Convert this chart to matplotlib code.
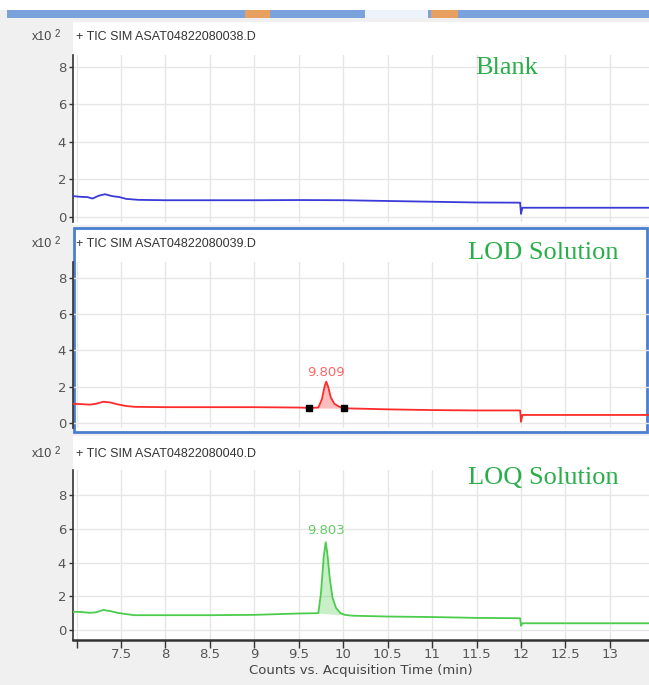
import matplotlib
matplotlib.use("Agg")
import matplotlib.pyplot as plt
from matplotlib.patches import Rectangle
import numpy as np

# ---------------- data ----------------
t_blank = [6.96, 7.05, 7.12, 7.18, 7.25, 7.32, 7.40, 7.48, 7.56, 7.70, 8.0, 8.5, 9.0, 9.5,
           10.0, 10.5, 11.0, 11.5, 11.99, 12.0, 12.015, 12.03, 12.5, 13.0, 13.44]
y_blank = [1.10, 1.06, 1.05, 0.97, 1.12, 1.20, 1.10, 1.05, 0.95, 0.90, 0.88, 0.88, 0.88, 0.89,
           0.88, 0.84, 0.80, 0.76, 0.75, 0.15, 0.48, 0.48, 0.48, 0.48, 0.48]

t_lod = [6.96, 7.05, 7.15, 7.22, 7.30, 7.38, 7.46, 7.55, 7.65, 8.0, 8.5, 9.0, 9.5, 9.62,
         9.72, 9.76, 9.79, 9.809, 9.83, 9.86, 9.90, 9.95, 10.01, 10.5, 11.0, 11.5, 11.99,
         12.0, 12.015, 12.03, 12.5, 13.0, 13.44]
y_lod = [1.05, 1.03, 1.00, 1.05, 1.16, 1.12, 1.02, 0.93, 0.88, 0.86, 0.86, 0.86, 0.84, 0.82,
         0.84, 1.30, 2.00, 2.27, 2.00, 1.40, 1.05, 0.90, 0.80, 0.74, 0.70, 0.68, 0.68,
         0.05, 0.43, 0.43, 0.43, 0.43, 0.43]
lod_rt = 9.809
lod_bounds = [9.62, 10.01]

t_loq = [6.96, 7.05, 7.15, 7.22, 7.30, 7.38, 7.46, 7.55, 7.65, 8.0, 8.5, 9.0, 9.5, 9.72,
         9.75, 9.78, 9.803, 9.82, 9.85, 9.88, 9.92, 9.97, 10.02, 10.1, 10.5, 11.0, 11.5,
         11.99, 12.0, 12.015, 12.03, 12.5, 13.0, 13.44]
y_loq = [1.08, 1.07, 1.02, 1.05, 1.19, 1.12, 1.02, 0.95, 0.88, 0.88, 0.88, 0.90, 0.98, 1.00,
         2.20, 4.30, 5.20, 4.60, 3.00, 1.90, 1.30, 1.00, 0.90, 0.85, 0.80, 0.77, 0.72,
         0.70, 0.25, 0.40, 0.40, 0.40, 0.40, 0.40]
loq_rt = 9.803
loq_bounds = [9.72, 10.05]

titles = ["+ TIC SIM ASAT04822080038.D", "+ TIC SIM ASAT04822080039.D", "+ TIC SIM ASAT04822080040.D"]
labels = ["Blank", "LOD Solution", "LOQ Solution"]
x_ticks = [7.0, 7.5, 8, 8.5, 9, 9.5, 10, 10.5, 11, 11.5, 12, 12.5, 13]
x_ticklabels = ["", "7.5", "8", "8.5", "9", "9.5", "10", "10.5", "11", "11.5", "12", "12.5", "13"]
y_ticks = [0, 2, 4, 6, 8]
xlabel = "Counts vs. Acquisition Time (min)"

# ---------------- figure ----------------
W, H = 649, 685
fig = plt.figure(figsize=(W / 100, H / 100), dpi=100, facecolor="#f0f0f0")

def fx(px):
    return px / W

def fy(py):
    return 1 - py / H

def frect(x0, y0, x1, y1, **kw):
    r = Rectangle((fx(x0), fy(y1)), fx(x1) - fx(x0), fy(y0) - fy(y1),
                  transform=fig.transFigure, zorder=-5, **kw)
    fig.patches.append(r)

# top toolbar
frect(0, 0, 649, 10, facecolor="white", edgecolor="none")
frect(7, 10, 649, 18, facecolor="#7aa2dc", edgecolor="none")
frect(365, 10, 428, 18, facecolor="#eef3fb", edgecolor="none")
frect(245, 10, 270, 18, facecolor="#e8a060", edgecolor="none")
frect(431, 10, 458, 18, facecolor="#e8a060", edgecolor="none")

# panel backgrounds
frect(73, 22, 649, 225, facecolor="white", edgecolor="none")
frect(73, 436, 649, 641, facecolor="white", edgecolor="none")
frect(74, 228, 647, 432, facecolor="white", edgecolor="#4a7fd0", linewidth=2)

panels = [
    dict(top=55, bot=222, ylim=(-0.28, 8.62), t=t_blank, y=y_blank, color="#3a3ad8",
         title_y=37, lab=(475, 68), peak=None),
    dict(top=262, bot=428, ylim=(-0.29, 8.88), t=t_lod, y=y_lod, color="#ff2a2a",
         title_y=244, lab=(468, 253), peak=(lod_rt, lod_bounds, "#ff6666", 2.75, True)),
    dict(top=470, bot=640, ylim=(-0.59, 9.48), t=t_loq, y=y_loq, color="#4ccc4c",
         title_y=454, lab=(468, 478), peak=(loq_rt, loq_bounds, "#66cc66", 5.9, False)),
]

tick_color = "#555555"
axes = []
for i, p in enumerate(panels):
    ax = fig.add_axes([fx(73), fy(p["bot"]), fx(649) - fx(73), (p["bot"] - p["top"]) / H])
    ax.set_facecolor("none")
    ax.set_xlim(6.96, 13.44)
    ax.set_ylim(*p["ylim"])
    ax.set_yticks(y_ticks)
    ax.set_xticks(x_ticks)
    ax.grid(True, color="#e6e6e6", linewidth=1.0)
    ax.set_axisbelow(True)
    for s in ["top", "right"]:
        ax.spines[s].set_visible(False)
    ax.spines["left"].set_color("#333333")
    ax.spines["left"].set_linewidth(1.2)
    ax.tick_params(axis="y", direction="out", length=3, width=1, colors="#333333",
                   labelsize=9.5, pad=2)
    for lbl in ax.get_yticklabels():
        lbl.set_color(tick_color)
    if i < 2:
        ax.spines["bottom"].set_visible(False)
        ax.tick_params(axis="x", length=0, labelbottom=False)
    else:
        ax.spines["bottom"].set_color("#333333")
        ax.spines["bottom"].set_linewidth(1.8)
        ax.set_xticklabels(x_ticklabels)
        ax.tick_params(axis="x", direction="out", length=6, width=1, colors="#333333",
                       labelsize=9.5, pad=0)
        for lbl in ax.get_xticklabels():
            lbl.set_color(tick_color)
        ax.set_xlabel(xlabel, fontsize=9.5, color="#444444", labelpad=2)

    ax.plot(p["t"], p["y"], color=p["color"], linewidth=1.3, zorder=3)

    if p["peak"] is not None:
        rt, bounds, lcolor, label_y, markers = p["peak"]
        tt = np.linspace(bounds[0], bounds[1], 200)
        yy = np.interp(tt, p["t"], p["y"])
        yb0 = np.interp(bounds[0], p["t"], p["y"])
        yb1 = np.interp(bounds[1], p["t"], p["y"])
        base = np.interp(tt, bounds, [yb0, yb1])
        ax.fill_between(tt, base, np.maximum(yy, base), color=p["color"], alpha=0.3,
                        linewidth=0, zorder=2)
        if markers:
            ax.plot(bounds, [yb0, yb1], linestyle="none", marker="s", markersize=5,
                    color="black", zorder=4)
        ax.text(rt, label_y, f"{rt:.3f}", color=lcolor, fontsize=9.5, ha="center",
                va="center", zorder=5)

    # title texts
    fig.text(fx(76), fy(p["title_y"]), titles[i], fontsize=9, color="#333333",
             va="center", ha="left", family="Liberation Sans")
    fig.text(fx(52), fy(p["title_y"]), "x10", fontsize=9, color="#444444",
             va="center", ha="right", family="Liberation Sans")
    fig.text(fx(55), fy(p["title_y"] - 3), "2", fontsize=7, color="#444444",
             va="center", ha="left", family="Liberation Sans")
    fig.text(fx(p["lab"][0]), fy(p["lab"][1]), labels[i], fontsize=19, color="#2aae4a",
             va="center", ha="left", family="Liberation Serif")
    axes.append(ax)

fig.savefig("out.png", dpi=100, facecolor=fig.get_facecolor())
